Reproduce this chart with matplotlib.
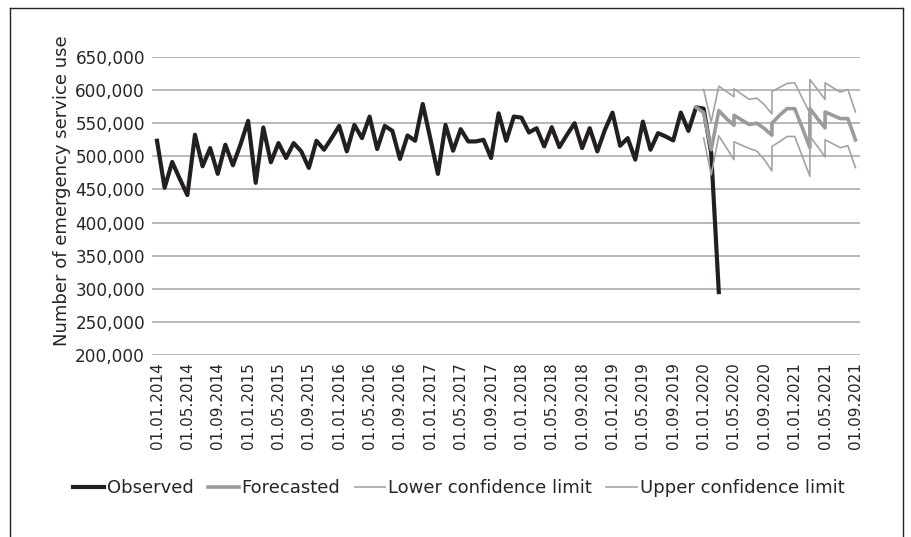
import matplotlib
matplotlib.use("Agg")
import matplotlib.pyplot as plt
from matplotlib.lines import Line2D

# ---- data (values in thousands, x = month index from Jan 2014) ----
observed = [523.5, 452.5, 491.5, 466, 441.5, 532.5, 485, 512.5, 473.5, 517.5,
            486.5, 518, 553.5, 460, 543.5, 491, 520, 497.5, 520, 507.5,
            482.5, 523.5, 510, 527.5, 546, 507.5, 547.5, 527.5, 560, 511,
            546, 538.5, 496, 531.5, 523.5, 579, 527, 473.5, 547.5, 508.5,
            541, 522.5, 522.5, 525, 497.5, 565, 523.5, 560, 558.5, 536,
            542.5, 515, 544, 514, 532.5, 550, 512.5, 542.5, 507.5, 540,
            566, 516, 527.5, 495, 552.5, 510, 535, 530, 524, 566,
            538.5, 574, 572, 505, 295]

forecast_x = [71, 72, 73, 74, 75, 76, 76, 77, 78, 79, 80, 81, 81, 82, 83, 84,
              85, 86, 86, 87, 88, 88, 89, 90, 91, 92]
forecast = [574, 566, 510, 569, 557, 547, 562, 555, 548, 550, 542, 532, 550,
            562, 572, 572, 543, 513, 572, 557, 543, 567, 562, 557, 557, 525]

limit_x = [72, 73, 74, 75, 76, 76, 77, 78, 79, 80, 81, 81, 82, 83, 84, 85,
           86, 86, 87, 88, 88, 89, 90, 91, 92]
upper = [601, 552, 606, 598, 590, 602, 594, 586, 588, 578, 564, 598, 604,
         610, 611, 588, 565, 616, 601, 586, 611, 604, 597, 601, 567]
lower = [528, 472, 531, 513, 495, 522, 517, 512, 508, 495, 478, 515, 522,
         530, 530, 500, 470, 530, 515, 499, 525, 519, 513, 516, 483]

tick_labels = ["01.01.2014", "01.05.2014", "01.09.2014", "01.01.2015",
               "01.05.2015", "01.09.2015", "01.01.2016", "01.05.2016",
               "01.09.2016", "01.01.2017", "01.05.2017", "01.09.2017",
               "01.01.2018", "01.05.2018", "01.09.2018", "01.01.2019",
               "01.05.2019", "01.09.2019", "01.01.2020", "01.05.2020",
               "01.09.2020", "01.01.2021", "01.05.2021", "01.09.2021"]
tick_pos = [4 * k for k in range(len(tick_labels))]

y_ticks = [200000 + 50000 * k for k in range(10)]

plt.rcParams['font.family'] = ['DejaVu Sans']

W, H = 912, 537
fig = plt.figure(figsize=(W / 100, H / 100), dpi=100)

# frame around the figure
frame_kw = dict(transform=fig.transFigure, color="#222222", lw=1.0)
fig.add_artist(Line2D([10 / W, 10 / W], [0, 1 - 8 / H], **frame_kw))
fig.add_artist(Line2D([903 / W, 903 / W], [0, 1 - 8 / H], **frame_kw))
fig.add_artist(Line2D([10 / W, 903 / W], [1 - 8 / H, 1 - 8 / H], **frame_kw))

left, right, top, bottom = 152, 860, 57, 355
ax = fig.add_axes([left / W, 1 - bottom / H, (right - left) / W, (bottom - top) / H])

obs_x = list(range(len(observed)))
ax.plot(obs_x, [v * 1000 for v in observed], color="#231f20", lw=3.0,
        label="Observed", zorder=3)
ax.plot(forecast_x, [v * 1000 for v in forecast], color="#9b9b9b", lw=2.6,
        label="Forecasted", zorder=4)
ax.plot(limit_x, [v * 1000 for v in lower], color="#a3a3a3", lw=1.2,
        label="Lower confidence limit", zorder=5)
ax.plot(limit_x, [v * 1000 for v in upper], color="#a3a3a3", lw=1.2,
        label="Upper confidence limit", zorder=6)

ax.set_xlim(-0.66, 92.6)
ax.set_ylim(200000, 650000)
ax.set_yticks(y_ticks)
ax.set_yticklabels([f"{v:,}" for v in y_ticks], fontsize=12.2, color="#262626")
ax.set_xticks(tick_pos)
ax.set_xticklabels(tick_labels, rotation=90, fontsize=11, color="#262626")
ax.tick_params(axis="y", length=0, pad=5)
ax.tick_params(axis="x", length=0, pad=5)
for s in ax.spines.values():
    s.set_visible(False)
ax.grid(axis="y", color="#a6a6a6", lw=1.1)
ax.set_axisbelow(True)

fig.text(62 / W, 1 - 191 / H, "Number of emergency service use", rotation=90,
         ha="center", va="center", fontsize=13, color="#262626")

handles, labels = ax.get_legend_handles_labels()
fig.legend(handles, labels, loc="center", bbox_to_anchor=(459 / W, 1 - 488 / H),
           ncol=4, frameon=False, fontsize=13, handlelength=1.7, handletextpad=0.15,
           columnspacing=0.8, labelcolor="#262626")

fig.savefig("out.png", dpi=100)
